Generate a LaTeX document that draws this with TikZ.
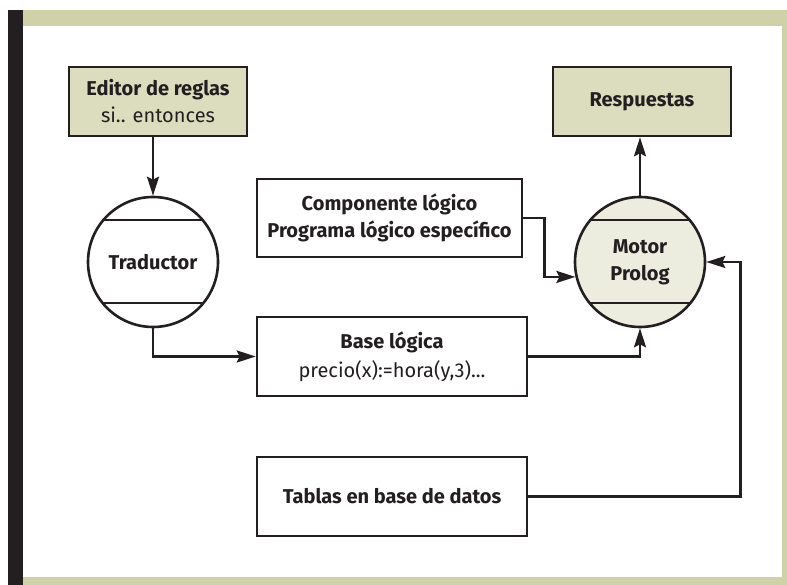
\documentclass[tikz,border=0pt]{standalone}
\usepackage{fontspec}
\setmainfont{Fira Sans}
\usetikzlibrary{arrows.meta,calc}
\definecolor{band}{HTML}{CFD1A8}
\definecolor{olive}{HTML}{DCDCBE}
\definecolor{pale}{HTML}{EDEDDF}
\definecolor{ink}{HTML}{231F20}
\begin{document}
\begin{tikzpicture}[x=1pt,y=-1pt,
  every node/.style={font=\fontsize{20}{27}\selectfont, text=ink},
  box/.style={draw=ink, line width=2.6pt, align=center, inner sep=0pt},
  proc/.style={draw=ink, line width=2.6pt, circle, minimum size=130pt, inner sep=0pt, align=center},
  chord/.style={draw=ink, line width=2.6pt},
  arr/.style={draw=ink, line width=2.6pt, -{Stealth[length=19pt,width=12pt,inset=3pt]}},
  conn/.style={draw=ink, line width=2.6pt}]
\useasboundingbox (0,0) rectangle (787,585);
\fill[white] (0,0) rectangle (787,585);
% frame
\fill[ink] (8,10) rectangle (23,585);
\fill[band] (23,10) rectangle (787,26);
\fill[band] (782,26) rectangle (787,585);
\fill[band] (23,577) rectangle (782,585);
% nodes
\node[box, fill=olive, minimum width=178pt, minimum height=69pt] (editor) at (158,101.5) {\textbf{Editor de reglas}\\si.. entonces};
\node[box, fill=olive, minimum width=178pt, minimum height=69pt] (resp) at (642,101.5) {\textbf{Respuestas}};
\node[box, fill=white, minimum width=265pt, minimum height=78pt] (comp) at (389.5,218) {\textbf{Componente lógico}\\\textbf{Programa lógico específico}};
\node[box, fill=white, minimum width=270pt, minimum height=79pt, font=\fontsize{20}{29}\selectfont] (base) at (392,356.5) {\textbf{Base lógica}\\precio(x):=hora(y,3)...};
\node[box, fill=white, minimum width=270pt, minimum height=79pt] (tablas) at (392,496.5) {\textbf{Tablas en base de datos}};
\node[proc, fill=white] (trad) at (153,262) {\textbf{Traductor}};
\node[proc, fill=pale] (motor) at (640,262) {\textbf{Motor}\\\textbf{Prolog}};
% chords
\draw[chord] ([shift={(-51,-42)}]trad.center) -- ([shift={(51,-42)}]trad.center);
\draw[chord] ([shift={(-51,41)}]trad.center) -- ([shift={(51,41)}]trad.center);
\draw[chord] ([shift={(-51,-42)}]motor.center) -- ([shift={(51,-42)}]motor.center);
\draw[chord] ([shift={(-51,41)}]motor.center) -- ([shift={(51,41)}]motor.center);
% connectors
\draw[arr] (trad.north |- editor.south) -- (trad.north);
\draw[arr] (motor.north) -- (motor.north |- resp.south);
\draw[arr] (comp.east) -- ++(21,0) |- (motor.193);
\draw[arr] (trad.south) |- (base.west);
\draw[arr] (base.east) -| (motor.south);
\draw[arr] (tablas.east) -- ++(212,0) |- (motor.east);
\end{tikzpicture}
\end{document}
